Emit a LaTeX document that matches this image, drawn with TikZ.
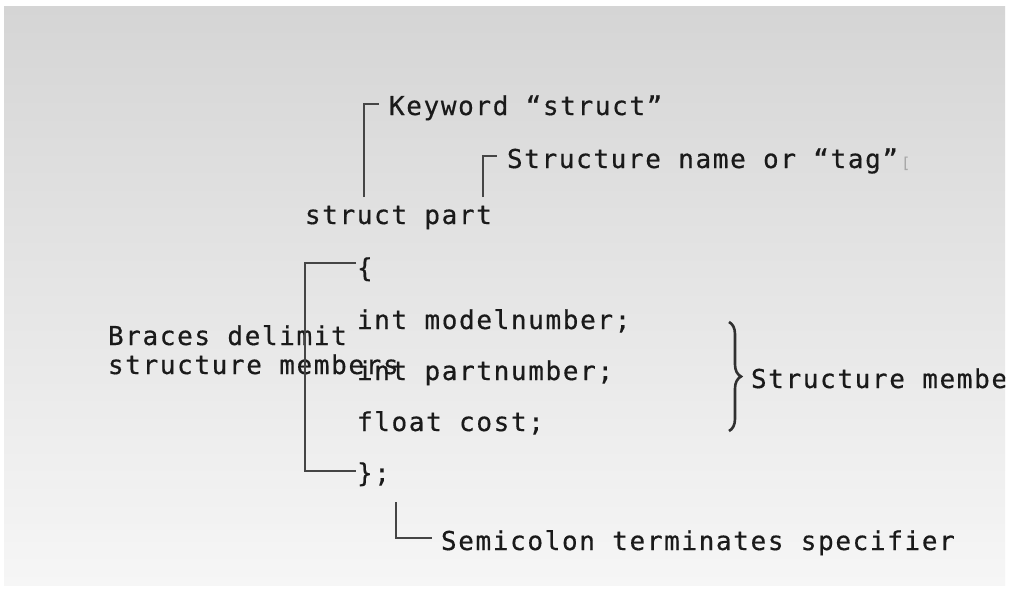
\documentclass[tikz,border=0pt]{standalone}
\usepackage{fontspec}
\usetikzlibrary{decorations.pathreplacing}
\newfontfamily\codefont[LetterSpace=6.3, FakeBold=0.5]{DejaVu Sans Mono}
\definecolor{txt}{HTML}{1A1A1A}
\definecolor{ln}{HTML}{454545}
\definecolor{bgtop}{HTML}{D5D5D5}
\definecolor{bgbot}{HTML}{F6F6F6}
\definecolor{artifact}{HTML}{A8A8A8}
\tikzset{
  lbl/.style={anchor=base west, inner sep=0pt, outer sep=0pt, text=txt,
    font=\codefont\fontsize{26}{26}\selectfont},
  callout/.style={draw=ln, line width=2pt, line cap=butt, line join=miter},
}
\begin{document}
\begin{tikzpicture}[x=1pt, y=-1pt]
\useasboundingbox (0,0) rectangle (1009,590);
\fill[white] (0,0) rectangle (1009,590);
\shade[top color=bgtop, bottom color=bgbot] (4,6) rectangle (1005,585);
\begin{scope}
\clip (4,6) rectangle (1005,585);
% labels
\node[lbl] (kw)   at (389,115) {Keyword “struct”};
\node[lbl] (tag)  at (507,168) {Structure name or “tag”\hspace{3pt}{\color{artifact}\fontsize{15}{15}\selectfont[}};
\node[lbl] (sp)   at (305,224) {struct part};
\node[lbl] (ob)   at (357,277) {\{};
\node[lbl] (m1)   at (357,329) {int modelnumber;};
\node[lbl] (m2)   at (357,380) {int partnumber;};
\node[lbl] (m3)   at (357,431) {float cost;};
\node[lbl] (cb)   at (357,482) {\};};
\node[lbl] (bd1)  at (108,345) {Braces delimit};
\node[lbl] (bd2)  at (108,374) {structure members};
\node[lbl] (smem) at (751,388) {Structure membe};
\node[lbl] (semi) at (441,550) {Semicolon terminates specifier};
% connector coordinates
\coordinate (kwfoot) at (364,197);
\coordinate (kwend)  at (379,104);
\coordinate (tagfoot) at (483,197);
\coordinate (tagend)  at (497,156);
\coordinate (obend) at (356,263);
\coordinate (cbend) at (356,471);
\coordinate (lbx)   at (305,263);
\coordinate (semifoot) at (396,502);
\coordinate (semiend)  at (432,538);
\coordinate (brtop) at (729,322);
\coordinate (brbot) at (729,431);
% connectors
\draw[callout] (kwfoot) |- (kwend);
\draw[callout] (tagfoot) |- (tagend);
\draw[callout] (obend) -- (lbx) |- (cbend);
\draw[callout] (semifoot) |- (semiend);
\draw[draw=ln!70!black, line width=2.6pt,
  decorate, decoration={brace, amplitude=12pt, aspect=0.5}] (brtop) -- (brbot);
\end{scope}
\end{tikzpicture}
\end{document}
